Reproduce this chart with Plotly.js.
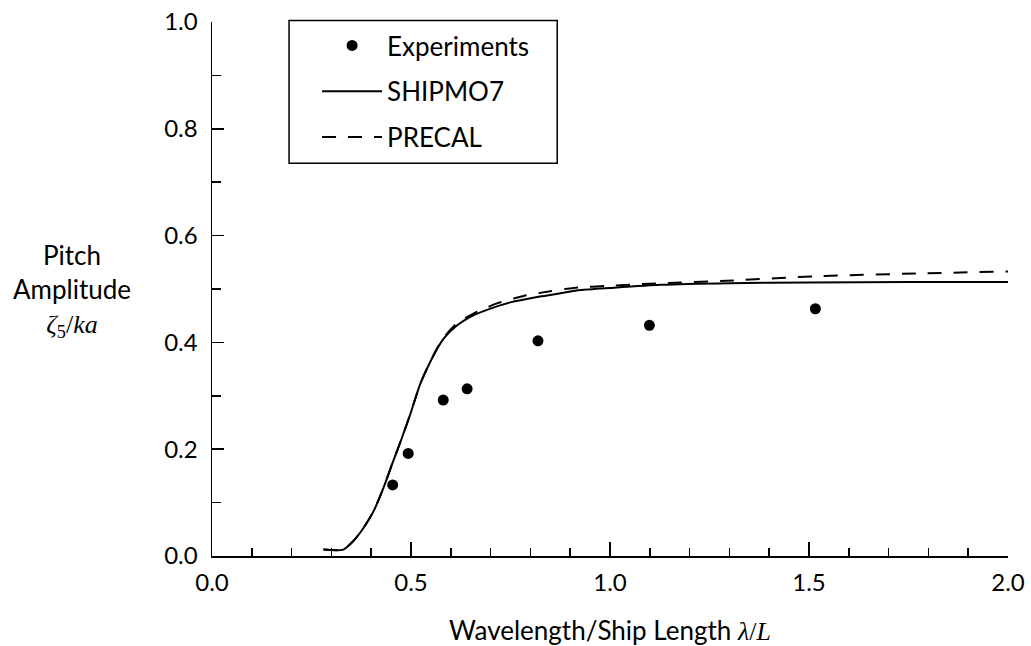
<!DOCTYPE html>
<html>
<head>
<meta charset="utf-8">
<script src="https://cdn.plot.ly/plotly-3.0.1.min.js"></script>
<style>html,body{margin:0;padding:0;background:#fff;}#chart{width:1031px;height:646px;}</style>
</head>
<body>
<div id="chart"></div>
<script>
// Experiments
var expX = [0.454, 0.493, 0.581, 0.641, 0.819, 1.099, 1.516];
var expY = [0.133, 0.192, 0.292, 0.313, 0.403, 0.432, 0.463];

// SHIPMO7 (solid)
var shipX = [0.28, 0.33, 0.355, 0.381, 0.406, 0.431, 0.452, 0.477, 0.498, 0.523, 0.557, 0.582, 0.616, 0.649, 0.691, 0.75, 0.817, 0.875, 0.926, 1.0, 1.127, 1.3, 1.5, 1.75, 2.0];
var shipY = [0.012, 0.012, 0.028, 0.053, 0.084, 0.128, 0.171, 0.221, 0.265, 0.322, 0.376, 0.407, 0.432, 0.448, 0.461, 0.475, 0.485, 0.492, 0.498, 0.502, 0.508, 0.511, 0.512, 0.513, 0.513];

// PRECAL (dashed)
var precX = [0.28, 0.33, 0.355, 0.381, 0.406, 0.431, 0.452, 0.477, 0.498, 0.523, 0.557, 0.582, 0.616, 0.657, 0.716, 0.783, 0.85, 0.909, 1.0, 1.1, 1.31, 1.52, 1.77, 2.0];
var precY = [0.012, 0.012, 0.028, 0.053, 0.084, 0.128, 0.171, 0.221, 0.265, 0.322, 0.377, 0.409, 0.436, 0.454, 0.473, 0.487, 0.496, 0.502, 0.506, 0.510, 0.516, 0.524, 0.529, 0.533];

var xTickVals = [0, 0.5, 1.0, 1.5, 2.0];
var xTickText = ['0.0', '0.5', '1.0', '1.5', '2.0'];
var yTickVals = [0, 0.2, 0.4, 0.6, 0.8, 1.0];
var yTickText = ['0.0', '0.2', '0.4', '0.6', '0.8', '1.0'];

var FONT = 'Lato, "Open Sans", sans-serif';
var SERIF = "'Liberation Serif', 'DejaVu Serif', serif";

var traces = [
  {x: expX, y: expY, type: 'scatter', mode: 'markers', name: 'Experiments', legendgroup: 'a',
   marker: {color: '#000', size: 11}},
  {x: shipX, y: shipY, type: 'scatter', mode: 'lines', name: 'SHIPMO7', legendgroup: 'b',
   line: {color: '#000', width: 2, shape: 'spline', smoothing: 0.6}},
  {x: precX, y: precY, type: 'scatter', mode: 'lines', name: 'PRECAL', legendgroup: 'c',
   line: {color: '#000', width: 2, dash: '14px,12px', shape: 'spline', smoothing: 0.6}}
];

var layout = {
  width: 1031, height: 646,
  margin: {l: 212, r: 23, t: 22, b: 90},
  paper_bgcolor: '#fff', plot_bgcolor: '#fff',
  font: {family: FONT, size: 24, color: '#000'},
  showlegend: true,
  legend: {x: 0.132, y: 1.0, xanchor: 'left', yanchor: 'top', bgcolor: 'rgba(0,0,0,0)',
           borderwidth: 0, font: {family: FONT, size: 26, color: '#000'},
           itemwidth: 60, traceorder: 'grouped', tracegroupgap: 9},
  xaxis: {range: [0, 2.0], showgrid: false, zeroline: false, showline: true, linecolor: '#000', linewidth: 1.5,
          tickmode: 'array', tickvals: xTickVals, ticktext: xTickText,
          ticks: 'inside', ticklen: 14, tickwidth: 1.5, tickcolor: '#000',
          ticklabelstandoff: 5,
          minor: {dtick: 0.1, ticks: 'inside', ticklen: 8, tickwidth: 1.5, tickcolor: '#000', showgrid: false},
          tickfont: {family: FONT, size: 24, color: '#000'},
          title: {text: 'Wavelength/Ship Length <span style="font-family:' + SERIF + '"><i>λ</i>/<i>L</i></span>',
                  font: {family: FONT, size: 26, color: '#000'}, standoff: 26}},
  yaxis: {range: [0, 1.0], showgrid: false, zeroline: false, showline: true, linecolor: '#000', linewidth: 1.5,
          tickmode: 'array', tickvals: yTickVals, ticktext: yTickText,
          ticks: 'inside', ticklen: 12, tickwidth: 1.5, tickcolor: '#000',
          ticklabelstandoff: 8,
          minor: {dtick: 0.1, ticks: 'inside', ticklen: 9, tickwidth: 1.5, tickcolor: '#000', showgrid: false},
          tickfont: {family: FONT, size: 24, color: '#000'}},
  shapes: [
    {type: 'rect', xref: 'paper', yref: 'paper', x0: 0.0968, x1: 0.4337, y0: 0.7355, y1: 1.003,
     line: {color: '#000', width: 1.5}, fillcolor: 'rgba(0,0,0,0)'}
  ],
  annotations: [
    {xref: 'paper', yref: 'paper', x: -0.176, y: 0.498, xanchor: 'center', yanchor: 'middle', showarrow: false,
     align: 'center', font: {family: FONT, size: 26, color: '#000'},
     text: 'Pitch<br>Amplitude<br><span style="font-family:' + SERIF + '"><i>ζ</i><sub>5</sub>/<i>ka</i></span>'}
  ]
};

Plotly.newPlot('chart', traces, layout, {displayModeBar: false, staticPlot: true});
</script>
</body>
</html>
